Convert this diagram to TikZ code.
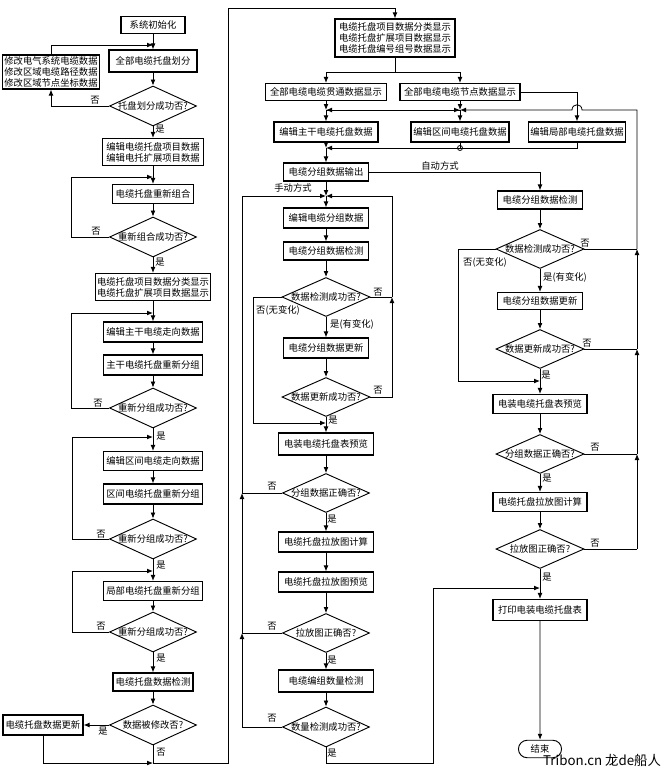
\documentclass[tikz,border=0pt]{standalone}
\usepackage{fontspec}
\setmainfont{Noto Sans CJK SC}
\usetikzlibrary{arrows.meta,shapes.geometric}
\tikzset{
  sz/.style 2 args={minimum width=#1*0.75pt, minimum height=#2*0.75pt},
  box/.style={draw, line width=0.8pt, inner sep=1pt, align=center, font=\fontsize{7}{8.3}\selectfont},
  dec/.style={draw, diamond, line width=0.7pt, inner sep=0pt, label={[font=\fontsize{7}{8.3}\selectfont]center:#1}},
  term/.style={draw, rounded rectangle, line width=0.7pt, font=\fontsize{7}{8.3}\selectfont},
  lab/.style={font=\fontsize{7}{8.3}\selectfont, inner sep=0pt},
  arr/.style={-{Latex[length=4.5pt,width=3.6pt]}},
  every path/.style={line width=0.6pt},
}
\usetikzlibrary{shapes.misc}
\begin{document}
\begin{tikzpicture}[x=0.75pt,y=-0.75pt]
\useasboundingbox (0,0) rectangle (662,774);
% ---------- column 1 ----------
\node[box,sz={64}{17}] (n1) at (153,25) {系统初始化};
\node[box,sz={88}{22}] (n2) at (153,61) {全部电缆托盘划分};
\node[box,sz={97}{34},align=left] (nL) at (51,72) {修改电气系统电缆数据\\修改区域电缆路径数据\\修改区域节点坐标数据};
\node[dec={托盘划分成功否?},sz={87}{40}] (d1) at (153,106) {};
\node[box,sz={101}{27}] (n3) at (153,152) {编辑电缆托盘项目数据\\编辑电托扩展项目数据};
\node[box,sz={81}{19}] (n4) at (153,194) {电缆托盘重新组合};
\node[dec={重新组合成功否?},sz={87}{40}] (d2) at (153,237) {};
\node[box,sz={115}{27}] (n5) at (153,287) {电缆托盘项目数据分类显示\\电缆托盘扩展项目数据显示};
\node[box,sz={99}{20}] (n6) at (153,332) {编辑主干电缆走向数据};
\node[box,sz={99}{20}] (n7) at (153,365) {主干电缆托盘重新分组};
\node[dec={重新分组成功否?},sz={87}{40}] (d3) at (153,408) {};
\node[box,sz={99}{19}] (n8) at (153,461) {编辑区间电缆走向数据};
\node[box,sz={99}{20}] (n9) at (153,494) {区间电缆托盘重新分组};
\node[dec={重新分组成功否?},sz={87}{40}] (d4) at (153,539) {};
\node[box,sz={99}{19}] (n10) at (153,591) {局部电缆托盘重新分组};
\node[dec={重新分组成功否?},sz={87}{40}] (d5) at (153,632) {};
\node[box,sz={80}{18}] (n11) at (153,682) {电缆托盘数据检测};
\node[dec={数据被修改否?},sz={87}{40}] (d6) at (153,725) {};
\node[box,sz={80}{20}] (nU) at (43,725) {电缆托盘数据更新};
% ---------- column 2 top ----------
\node[box,sz={120}{38},align=left] (m0) at (395,38) {电缆托盘项目数据分类显示\\电缆托盘扩展项目数据显示\\电缆托盘编号组号数据显示};
\node[box,sz={121}{17}] (m1) at (326,92) {全部电缆电缆贯通数据显示};
\node[box,sz={120}{17}] (m2) at (460,92) {全部电缆电缆节点数据显示};
\node[box,sz={104}{20}] (e1) at (326,132) {编辑主干电缆托盘数据};
\node[box,sz={98}{20}] (e2) at (460,132) {编辑区间电缆托盘数据};
\node[box,sz={97}{20}] (e3) at (577,132) {编辑局部电缆托盘数据};
\node[box,sz={85}{18}] (o1) at (326,172) {电缆分组数据输出};
% ---------- middle column ----------
\node[box,sz={85}{20}] (p1) at (326,218) {编辑电缆分组数据};
\node[box,sz={85}{18}] (p2) at (326,251) {电缆分组数据检测};
\node[dec={数据检测成功否?},sz={88}{39}] (q1) at (326,297) {};
\node[box,sz={85}{20}] (p3) at (326,348) {电缆分组数据更新};
\node[dec={数据更新成功否?},sz={88}{39}] (q2) at (326,397) {};
\node[box,sz={95}{22}] (p4) at (326,444) {电装电缆托盘表预览};
\node[dec={分组数据正确否?},sz={87}{39}] (q3) at (326,493) {};
\node[box,sz={95}{20}] (p5) at (326,542) {电缆托盘拉放图计算};
\node[box,sz={95}{20}] (p6) at (326,582) {电缆托盘拉放图预览};
\node[dec={拉放图正确否?},sz={87}{39}] (q4) at (326,633) {};
\node[box,sz={95}{22}] (p7) at (326,681) {电缆编组数量检测};
\node[dec={数量检测成功否?},sz={87}{40}] (q5) at (326,727) {};
% ---------- right column ----------
\node[box,sz={85}{18}] (r1) at (540,200) {电缆分组数据检测};
\node[dec={数据检测成功否?},sz={88}{39}] (s1) at (540,249) {};
\node[box,sz={85}{17}] (r2) at (540,301) {电缆分组数据更新};
\node[dec={数据更新成功否?},sz={88}{39}] (s2) at (540,349) {};
\node[box,sz={94}{19}] (r3) at (540,404) {电装电缆托盘表预览};
\node[dec={分组数据正确否?},sz={88}{39}] (s3) at (540,454) {};
\node[box,sz={94}{19}] (r4) at (540,502) {电缆托盘拉放图计算};
\node[dec={拉放图正确否?},sz={88}{39}] (s4) at (540,549) {};
\node[box,sz={94}{21}] (r5) at (540,610) {打印电装电缆托盘表};
\node[term,sz={52}{15}] (en) at (540,749) {结束};
% ---------- coordinates ----------
\coordinate (j1) at (153,45);
\coordinate (j2) at (153,177);
\coordinate (j3) at (153,313);
\coordinate (j4) at (153,437);
\coordinate (j5) at (153,571);
\coordinate (j6) at (153,763);
\coordinate (k1) at (326,110);
\coordinate (k2) at (460,110);
\coordinate (k3) at (326,148);
\coordinate (k4) at (460,148);
\coordinate (k5) at (326,196);
\coordinate (k6) at (326,423);
\coordinate (k7) at (392,297);
\coordinate (k8) at (242,633);
\coordinate (k9) at (242,493);
\coordinate (k10) at (540,588);
\coordinate (k11) at (540,381);
\coordinate (t1) at (637,549);
\coordinate (t2) at (637,454);
\coordinate (t3) at (637,349);
\coordinate (t4) at (637,249);
% ---------- column 1 connectors ----------
\draw[arr] (n1) -- (n2);
\draw[arr] (n2) -- (d1);
\draw[arr] (d1) -- (n3);
\draw[arr] (d1.west) -| (nL.south);
\draw[arr] (nL.north) |- (j1);
\fill (j1) circle (1.6);
\draw[arr] (n3) -- (n4);
\draw[arr] (n4) -- (d2);
\draw[arr] (d2.west) -- ++(-38,0) |- (j2);
\draw[arr] (d2) -- (n5);
\draw[arr] (n5) -- (n6);
\draw[arr] (d3.west) -- ++(-38,0) |- (j3);
\draw[arr] (n6) -- (n7);
\draw[arr] (n7) -- (d3);
\draw[arr] (d3) -- (n8);
\draw[arr] (n8) -- (n9);
\draw[arr] (n9) -- (d4);
\draw[arr] (d4.west) -- ++(-37,0) |- (j4);
\draw[arr] (d4) -- (n10);
\draw[arr] (d5.west) -- ++(-37,0) |- (j5);
\draw[arr] (n10) -- (d5);
\draw[arr] (d5) -- (n11);
\draw[arr] (n11) -- (d6);
\draw[arr] (d6.west) -- (nU.east);
\draw[arr] (nU.south) |- (j6);
\draw[arr] (d6.south) |- (228,763) -- (228,8) -| (m0.north);
% ---------- column 2 top connectors ----------
\draw[arr] (m0.south) -- ++(0,15) -| (m1.north);
\draw[arr] (m0.south) -- ++(0,15) -| (m2.north);
\draw[arr] (m1.south) -- (k1);
\draw[arr] (k1) -- (e1.north);
\draw[arr] (m2.south) -- (k2);
\draw[arr] (k2) -- (e2.north);
\draw[arr] (k1) -- (k2);
\draw[arr] (k2) -- (k1);
\draw[arr] (m2.east) -| (e3.north);
\draw[arr] (e1.south) -- (k3);
\draw[arr] (k3) -- (o1.north);
\draw[arr] (e3.south) |- (k3);
\draw (e2.south) -- (k4);
\draw (k4) circle (2.5);
\draw[arr] (o1.east) -| (r1.north);
\draw[arr] (o1.south) -- (k5);
\draw[arr] (k5) -- (p1.north);
% ---------- middle connectors ----------
\draw[arr] (p1) -- (p2);
\draw[arr] (p2) -- (q1);
\draw[arr] (q1) -- (p3);
\draw[arr] (p3) -- (q2);
\draw[arr] (q2) -- (p4);
\draw[arr] (q1.west) -- ++(-28,0) |- (k6);
\draw (q1.east) -- (k7);
\draw[arr] (q2.east) -| (k7);
\draw[arr] (k7) |- (k5);
\draw[arr] (p4) -- (q3);
\draw[arr] (q3) -- (p5);
\draw[arr] (p5) -- (p6);
\draw[arr] (p6) -- (q4);
\draw[arr] (q4) -- (p7);
\draw[arr] (p7) -- (q5);
\draw[arr] (q5.west) -| (k8);
\draw (q4.west) -- (k8);
\draw[arr] (k8) -- (k9);
\draw (q3.west) -- (k9);
\draw[arr] (k9) |- (k5);
\draw[arr] (q5.south) |- (433,763) |- (k10);
% ---------- right connectors ----------
\draw[arr] (r1) -- (s1);
\draw[arr] (s1) -- (r2);
\draw[arr] (r2) -- (s2);
\draw[arr] (s2) -- (r3);
\draw[arr] (s1.west) -- ++(-37,0) |- (k11);
\draw[arr] (r3) -- (s3);
\draw[arr] (s3) -- (r4);
\draw[arr] (r4) -- (s4);
\draw[arr] (s4) -- (r5);
\draw[arr] (r5) -- (en);
\draw (s4.east) -- (t1);
\draw[arr] (t1) -- (t2);
\draw (s3.east) -- (t2);
\draw[arr] (t2) -- (t3);
\draw (s2.east) -- (t3);
\draw[arr] (t3) -- (t4);
\draw (s1.east) -- (t4);
\draw[arr] (t4) -- (637,110) -- (582,110) .. controls (582,103) and (572,103) .. (572,110) -- (k2);
% ---------- labels ----------
\node[lab] (a1) at (95,100) {否};
\node[lab] (a2) at (160,129) {是};
\node[lab] (a3) at (96,231) {否};
\node[lab] (a4) at (160,262) {是};
\node[lab] (a5) at (98,403) {否};
\node[lab] (a6) at (161,436) {是};
\node[lab] (a7) at (101,534) {否};
\node[lab] (a8) at (161,565) {是};
\node[lab] (a9) at (101,626) {否};
\node[lab] (a10) at (161,658) {是};
\node[lab] (a11) at (103,731) {是};
\node[lab] (a12) at (161,752) {否};
\node[lab] (b1) at (378,292) {否};
\node[lab] (b2) at (278,310) {否(无变化)};
\node[lab] (b3) at (352,324) {是(有变化)};
\node[lab] (b4) at (378,390) {否};
\node[lab] (b5) at (333,420) {是};
\node[lab] (b6) at (272,486) {否};
\node[lab] (b7) at (332,519) {是};
\node[lab] (b8) at (272,626) {否};
\node[lab] (b9) at (332,660) {是};
\node[lab] (b10) at (272,718) {否};
\node[lab] (b11) at (332,753) {是};
\node[lab] (c1) at (585,243) {否};
\node[lab] (c2) at (485,262) {否(无变化)};
\node[lab] (c3) at (565,277) {是(有变化)};
\node[lab] (c4) at (587,343) {否};
\node[lab] (c5) at (546,375) {是};
\node[lab] (c6) at (595,447) {否};
\node[lab] (c7) at (547,478) {是};
\node[lab] (c8) at (595,543) {否};
\node[lab] (c9) at (547,577) {是};
\node[lab] (w1) at (440,166) {自动方式};
\node[lab] (w2) at (293,188) {手动方式};
\node[font=\fontsize{10}{12}\selectfont, inner sep=0pt] (wm) at (602,760) {Tribon.cn 龙de船人};
\end{tikzpicture}
\end{document}
